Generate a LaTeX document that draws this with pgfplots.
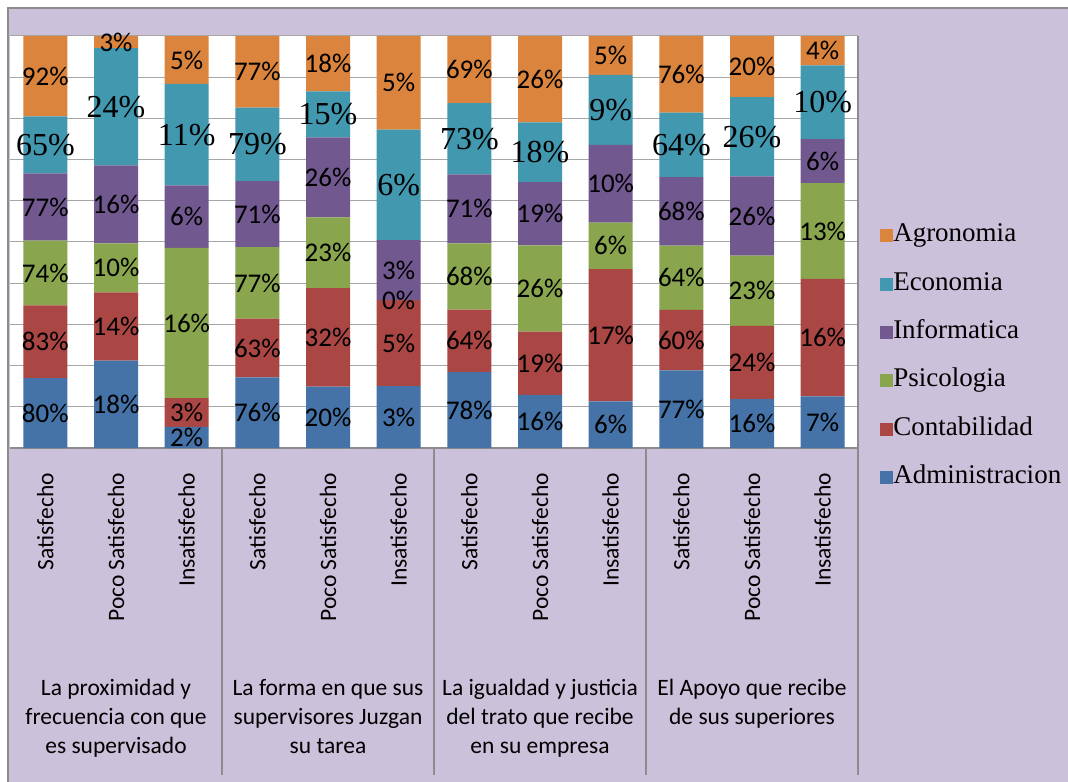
\documentclass[border=0pt]{standalone}
\usepackage{pgfplots}
\pgfplotsset{compat=1.18}
\usepackage{pgfplotstable}
\usepackage{fontspec}
\setmainfont{Carlito}
\newfontfamily\serifff{Liberation Serif}
\definecolor{cadmin}{HTML}{4572A7}
\definecolor{ccontab}{HTML}{AA4643}
\definecolor{cpsico}{HTML}{89A54E}
\definecolor{cinfo}{HTML}{71588F}
\definecolor{cecon}{HTML}{4198AF}
\definecolor{cagro}{HTML}{DB843D}
\definecolor{lav}{HTML}{CCC1DA}
\definecolor{bordergray}{HTML}{8C8C8C}
\definecolor{gridgray}{HTML}{A6A6A6}
\newcommand\ticfont{\fontsize{23.5bp}{29bp}\selectfont}
\newcommand\lblfont{\fontsize{27bp}{32bp}\selectfont}
\newcommand\econfont{\serifff\fontsize{32bp}{36bp}\selectfont}
\newcommand\legfont{\serifff\fontsize{27bp}{30bp}\selectfont}

\pgfplotstableread{
x a c p i e g la lc lp li le lg
0 80 83 74 77 65 92 80 83 74 77 65 92
1 17.9 14 10 16 24 2.5 18 14 10 16 24 3
2 2.2 3 15.7 6.5 10.6 5 2 3 16 6 11 5
3 76 63 77 71 79 77 76 63 77 71 79 77
4 20 32 23 26 15 18 20 32 23 26 15 18
5 3.3 4.6 0 3.2 5.9 5 3 5 0 3 6 5
6 78 64 68 71 73 69 78 64 68 71 73 69
7 16 19 26 19 18 26 16 19 26 19 18 26
8 6 17 6 10 9 5 6 17 6 10 9 5
9 77 60 64 68 64 76 77 60 64 68 64 76
10 16 24 23 26 26 20 16 24 23 26 26 20
11 7 16 13 6 10 4 7 16 13 6 10 4
}\data

\newcommand\tot{(\thisrow{a}+\thisrow{c}+\thisrow{p}+\thisrow{i}+\thisrow{e}+\thisrow{g})}

\begin{document}
\begin{tikzpicture}
\useasboundingbox (0,0) rectangle (1068bp,782bp);
\fill[white] (0,0) rectangle (1068bp,782bp);
\fill[lav] (8bp,0) rectangle (1068bp,774bp);
\draw[bordergray, line width=2bp] (8bp,0) -- (8bp,774bp) -- (1068bp,774bp);

\begin{axis}[
  at={(10bp,334bp)}, anchor=south west,
  scale only axis, width=848bp, height=412bp,
  ybar stacked, bar width=44bp,
  xmin=-0.5, xmax=11.5, ymin=0, ymax=100,
  xtick={0,...,11},
  xticklabels={Satisfecho, Poco Satisfecho, Insatisfecho, Satisfecho, Poco Satisfecho, Insatisfecho, Satisfecho, Poco Satisfecho, Insatisfecho, Satisfecho, Poco Satisfecho, Insatisfecho},
  ytick={0,10,...,100},
  yticklabel={\mbox{}},
  ymajorgrids, grid style={draw=gridgray, line width=1bp},
  major tick length=0pt,
  axis lines*=left,
  x axis line style={draw=bordergray, line width=1.2bp},
  y axis line style={draw=none},
  axis background/.style={fill=white},
  xticklabel style={rotate=90, anchor=east, inner sep=0pt, font=\ticfont},
  xticklabel shift=25bp,
  clip=false,
  legend style={draw=none, fill=none, at={(1.026,0.545)}, anchor=north west, font=\legfont, inner sep=0pt, row sep=24.4bp,
    nodes={inner sep=0pt, text height=18bp, text depth=6bp},
    /tikz/every even column/.append style={column sep=6bp}},
  legend cell align=left,
  reverse legend,
  legend image code/.code={\fill[#1, draw=none] (0bp,-6.5bp) rectangle (13bp,6.5bp);},
]
\addplot[fill=cadmin, draw=none] table[x=x, y expr={\thisrow{a}/\tot*100}]{\data};
\addplot[fill=ccontab, draw=none] table[x=x, y expr={\thisrow{c}/\tot*100}]{\data};
\addplot[fill=cpsico, draw=none] table[x=x, y expr={\thisrow{p}/\tot*100}]{\data};
\addplot[fill=cinfo, draw=none] table[x=x, y expr={\thisrow{i}/\tot*100}]{\data};
\addplot[fill=cecon, draw=none] table[x=x, y expr={\thisrow{e}/\tot*100}]{\data};
\addplot[fill=cagro, draw=none] table[x=x, y expr={\thisrow{g}/\tot*100}]{\data};
\legend{Administracion, Contabilidad, Psicologia, Informatica, Economia, Agronomia}

\draw[bordergray, line width=1.2bp] (axis cs:2.5,0) -- ([yshift=-327bp]axis cs:2.5,0);
\draw[bordergray, line width=1.2bp] (axis cs:5.5,0) -- ([yshift=-327bp]axis cs:5.5,0);
\draw[bordergray, line width=1.2bp] (axis cs:8.5,0) -- ([yshift=-327bp]axis cs:8.5,0);
\draw[bordergray, line width=1.2bp] (axis cs:11.5,100) -- ([yshift=-327bp]axis cs:11.5,0);

\node[anchor=north, align=center, font=\ticfont, inner sep=0pt] at ([yshift=-231bp]axis cs:1,0) {La proximidad y\\frecuencia con que\\es supervisado};
\node[anchor=north, align=center, font=\ticfont, inner sep=0pt] at ([yshift=-231bp]axis cs:4,0) {La forma en que sus\\supervisores Juzgan\\su tarea};
\node[anchor=north, align=center, font=\ticfont, inner sep=0pt] at ([yshift=-231bp]axis cs:7,0) {La igualdad y justicia\\del trato que recibe\\en su empresa};
\node[anchor=north, align=center, font=\ticfont, inner sep=0pt] at ([yshift=-231bp]axis cs:10,0) {El Apoyo que recibe\\de sus superiores};
\end{axis}

\begin{axis}[
  at={(10bp,334bp)}, anchor=south west,
  scale only axis, width=848bp, height=412bp,
  xmin=-0.5, xmax=11.5, ymin=0, ymax=100,
  hide axis, clip=false,
  nodes near coords={\pgfplotspointmeta\%},
  point meta=explicit symbolic,
  every node near coord/.append style={anchor=center, inner sep=0pt, font=\lblfont, text=black},
]
\addplot[draw=none, mark=none] table[x=x, y expr={(0.5*\thisrow{a})/\tot*100}, meta=la]{\data};
\addplot[draw=none, mark=none] table[x=x, y expr={(\thisrow{a}+0.5*\thisrow{c})/\tot*100}, meta=lc]{\data};
\addplot[draw=none, mark=none] table[x=x, y expr={(\thisrow{a}+\thisrow{c}+0.5*\thisrow{p})/\tot*100}, meta=lp]{\data};
\addplot[draw=none, mark=none] table[x=x, y expr={(\thisrow{a}+\thisrow{c}+\thisrow{p}+0.5*\thisrow{i})/\tot*100}, meta=li]{\data};
\addplot[draw=none, mark=none, every node near coord/.append style={font=\econfont}] table[x=x, y expr={(\thisrow{a}+\thisrow{c}+\thisrow{p}+\thisrow{i}+0.5*\thisrow{e})/\tot*100}, meta=le]{\data};
\addplot[draw=none, mark=none] table[x=x, y expr={(\thisrow{a}+\thisrow{c}+\thisrow{p}+\thisrow{i}+\thisrow{e}+0.5*\thisrow{g})/\tot*100}, meta=lg]{\data};
\end{axis}
\end{tikzpicture}
\end{document}
